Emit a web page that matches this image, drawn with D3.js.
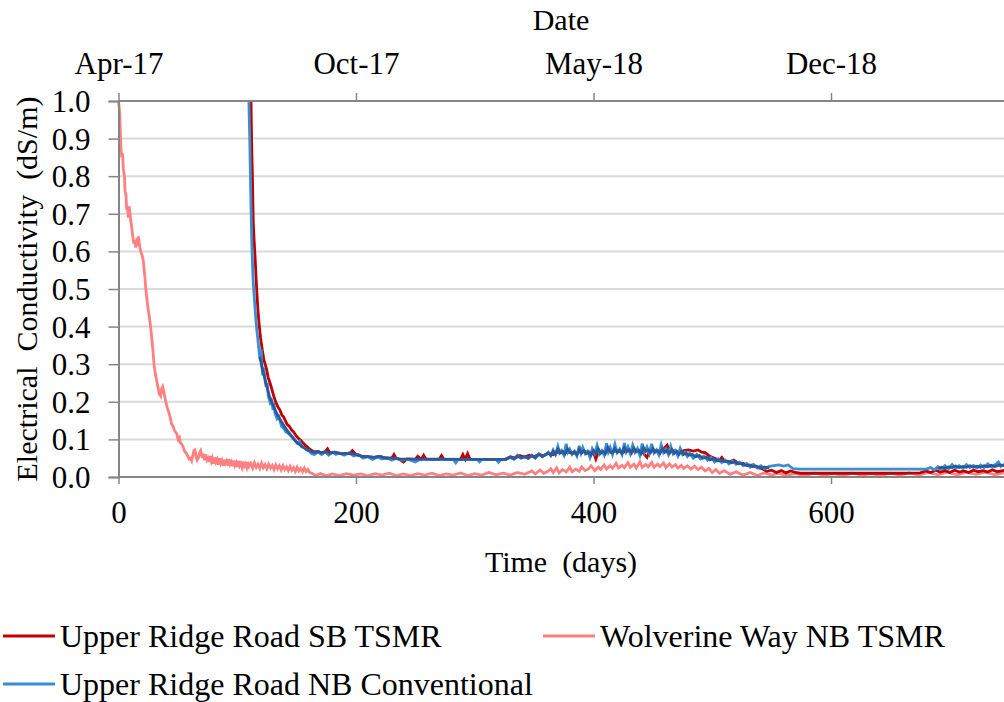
<!DOCTYPE html>
<html>
<head>
<meta charset="utf-8">
<script src="https://cdn.jsdelivr.net/npm/d3@7"></script>
<style>
  body { margin: 0; background: #fff; }
</style>
</head>
<body>
<script>
// ---- data (day, EC in dS/m) ----
var dayTicks = [0, 200, 400, 600];
var dateLabels = ["Apr-17", "Oct-17", "May-18", "Dec-18"];
var ecTicks = [0, 0.1, 0.2, 0.3, 0.4, 0.5, 0.6, 0.7, 0.8, 0.9, 1.0];

var seriesNames = ["Upper Ridge Road SB TSMR", "Wolverine Way NB TSMR", "Upper Ridge Road NB Conventional"];

var wolverineNB = [[0,1.0],[1,0.97],[2,0.88],[2.7,0.85],[3.5,0.86],[4,0.82],[5,0.80],[5.5,0.76],[6.3,0.75],[6.9,0.71],[7.5,0.72],[8.3,0.69],[9,0.72],[9.7,0.70],[10.4,0.68],[11.1,0.665],[12,0.64],[13,0.62],[13.8,0.63],[14.6,0.61],[15.5,0.635],[16.2,0.615],[16.7,0.64],[17.5,0.62],[18.7,0.60],[19.8,0.59],[20.9,0.575],[21.6,0.55],[22.3,0.53],[23,0.50],[23.7,0.48],[24.8,0.45],[26,0.425],[27,0.40],[28,0.37],[29,0.335],[29.9,0.30],[31,0.275],[32.2,0.255],[33.2,0.24],[34.4,0.22],[35.5,0.215],[36.3,0.235],[37.2,0.24],[38.2,0.225],[39.2,0.21],[40.2,0.195],[41,0.185],[42,0.175],[43,0.165],[43.8,0.155],[44.8,0.14],[46,0.135],[47,0.125],[48,0.12],[49,0.115],[50.2,0.10],[51.3,0.105],[52.2,0.09],[53.2,0.088],[54.5,0.08],[55.5,0.07],[56.5,0.065],[57.4,0.062],[58.5,0.055],[59.5,0.048],
  [60.5,0.05],[61.6,0.043],[62.6,0.058],[63.5,0.07],[64.4,0.072],[65.3,0.055],[66.2,0.045],[67.2,0.05],[68.3,0.065],[69.2,0.07],[70.2,0.055],[71.4,0.058],[72.5,0.045],[73.5,0.06],[74.6,0.045],[75.6,0.05],[76.5,0.04],[77.3,0.056],[78.2,0.042],[79,0.05],[80,0.035],[81,0.052],[82,0.04],[83,0.047],[84,0.033],[85,0.05],[86,0.037],[87,0.044],[88,0.03],[89,0.046],[90,0.036],[91,0.042],[92,0.03],[93,0.047],[94,0.034],[95,0.04],[96,0.029],[97,0.044],[98,0.031],[99,0.038],[100,0.027],[101,0.043],[102,0.03],[103,0.036],[104,0.026],[105,0.041],[106,0.029],[107,0.035],[108,0.025],[109,0.04],[110,0.028],[111.5,0.036],[113,0.024],[114.5,0.038],[116,0.026],[117.5,0.034],[119,0.023],[120.5,0.037],[122,0.025],[123.5,0.033],[125,0.022],[126.5,0.034],[128,0.024],[129.5,0.031],[131,0.02],[132.5,0.032],[134,0.022],[135.5,0.03],[137,0.019],[138.5,0.03],[140,0.02],[141.5,0.027],[143,0.017],[144.5,0.028],[146,0.018],[147.5,0.025],[149,0.015],[150.5,0.026],[152,0.016],[153.5,0.023],[155,0.014],[156.5,0.024],[158,0.014],[159.5,0.02],[161,0.012],
  [163,0.01],[166,0.004],[170,0.009],[175,0.003],[180,0.008],[186,0.004],[192,0.009],[198,0.005],[204,0.008],[210,0.003],[216,0.009],[222,0.005],[228,0.01],[234,0.004],[240,0.008],[246,0.004],[252,0.009],[258,0.005],[264,0.01],[270,0.004],[276,0.008],[282,0.005],[288,0.011],[294,0.004],[300,0.009],[306,0.005],[312,0.012],[318,0.006],[324,0.01],[330,0.005],[336,0.012],[342,0.007],[348,0.016],[351,0.008],[355,0.019],[358,0.01],[362,0.016],[364,0.022],[366,0.012],[369,0.024],[371,0.011],[374,0.02],[377,0.013],[380,0.026],[382,0.014],[385,0.021],[388,0.015],[390,0.027],[393,0.017],[396,0.022],[398,0.03],[401,0.017],[404,0.026],[406,0.02],[409,0.032],[411,0.021],[414,0.03],[416,0.023],[419,0.036],[421,0.024],[424,0.031],[426,0.025],[429,0.038],[431,0.026],[434,0.034],[436,0.024],[439,0.04],[441,0.026],[444,0.033],[446,0.027],[449,0.039],[451,0.026],[454,0.034],[456,0.028],[459,0.037],[461,0.025],[464,0.035],[466,0.027],[469,0.033],[471,0.024],[474,0.031],[476,0.023],[479,0.03],[482,0.021],[485,0.029],[488,0.02],[491,0.026],[494,0.016],[497,0.023],[500,0.012],[503,0.02],[506,0.01],[510,0.017],[515,0.007],[520,0.014],[526,0.005],[532,0.012],[538,0.004],[544,0.011],[550,0.005],[556,0.01],[562,0.004],[570,0.009],[578,0.004],[586,0.01],[594,0.005],[602,0.009],[610,0.004],[618,0.01],[626,0.005],[634,0.009],[642,0.004],[650,0.01],[658,0.005],[666,0.011],[674,0.005],[682,0.012],[690,0.006],[698,0.013],[706,0.006],[714,0.012],[722,0.007],[730,0.013],[738,0.006],[746,0.011]];

var upperSB = [[111.6,1.0],[111.8,0.95],[112.3,0.86],[112.7,0.81],[113.1,0.74],[113.5,0.675],[114.2,0.63],[115,0.586],[115.7,0.54],[116.4,0.497],[117.3,0.45],[118.3,0.41],[119.6,0.37],[121.1,0.338],[122.5,0.31],[123.5,0.30],[124.8,0.285],[126,0.265],[127.6,0.25],[129,0.235],[130.3,0.22],[131.8,0.205],[133,0.195],[134.5,0.185],[136,0.178],[137.5,0.165],[139,0.16],[140.2,0.152],[142,0.14],[143.8,0.135],[145.8,0.125],[147.5,0.12],[149.5,0.11],[151.4,0.103],[153.5,0.098],[155,0.092],[157,0.085],[159,0.08],[161,0.074],[163,0.07],[165,0.067],[168,0.068],[171,0.064],[174,0.067],[176,0.075],[178,0.064],[182,0.066],[186,0.063],[190,0.062],[195,0.063],[197,0.07],[200,0.06],[205,0.055],[210,0.054],[215,0.052],[220,0.055],[225,0.05],[230,0.05],[232,0.06],[234,0.049],[236,0.048],[240,0.04],[243,0.048],[250,0.047],[252,0.055],[255,0.047],[257,0.058],[259,0.047],[270,0.047],[272,0.057],[274,0.047],[288,0.047],[290,0.06],[292,0.047],[294,0.062],[296,0.047],[326,0.047],[330,0.054],[334,0.05],[338,0.057],[342,0.053],[346,0.058],[350,0.054],[354,0.06],[358,0.057],[362,0.063],[366,0.059],[370,0.066],[375,0.064],[380,0.066],[385,0.063],[390,0.068],[395,0.066],[400,0.066],[402,0.048],[404,0.066],[410,0.068],[415,0.066],[420,0.07],[425,0.066],[430,0.07],[435,0.068],[440,0.07],[445,0.052],[447,0.068],[452,0.07],[457,0.068],[462,0.085],[464,0.068],[468,0.07],[472,0.066],[476,0.07],[480,0.072],[484,0.069],[488,0.072],[491,0.066],[494,0.065],[498,0.055],[502,0.05],[506,0.045],[508,0.052],[510,0.044],[514,0.04],[518,0.045],[522,0.037],[526,0.036],[530,0.03],[534,0.032],[538,0.025],[542,0.022],[546,0.015],[550,0.018],[554,0.012],[558,0.017],[562,0.011],[566,0.016],[570,0.012],[574,0.01],[600,0.01],[630,0.01],[660,0.01],[675,0.011],[680,0.016],[684,0.012],[688,0.018],[692,0.013],[696,0.017],[700,0.012],[704,0.018],[708,0.013],[712,0.016],[716,0.012],[720,0.018],[724,0.014],[728,0.017],[732,0.013],[736,0.019],[740,0.014],[746,0.018]];

var upperNB = [[109.8,1.0],[110,0.97],[110.5,0.9],[110.9,0.83],[111.3,0.763],[111.7,0.7],[112.2,0.63],[112.8,0.57],[113.5,0.515],[114.5,0.47],[115.5,0.426],[116.5,0.39],[117.7,0.356],[118.5,0.33],[119.5,0.31],[120.3,0.34],[120.6,0.30],[121.5,0.27],[122.3,0.29],[123.4,0.258],[124.3,0.24],[125.2,0.25],[126.2,0.214],[127.5,0.2],[128.5,0.21],[129.8,0.185],[131,0.19],[131.8,0.169],[133.5,0.155],[135,0.16],[137.4,0.134],[139,0.13],[141,0.12],[143,0.116],[145,0.11],[147,0.105],[148.6,0.098],[150.5,0.09],[152.5,0.095],[154.3,0.08],[156.5,0.078],[158.5,0.072],[160.5,0.07],[162.7,0.062],[165,0.06],[168,0.066],[171,0.06],[174,0.067],[177,0.058],[180,0.066],[183,0.06],[186,0.064],[190,0.058],[194,0.064],[198,0.056],[202,0.06],[206,0.05],[210,0.054],[214,0.047],[218,0.053],[222,0.048],[226,0.052],[230,0.045],[234,0.05],[238,0.045],[244,0.047],[250,0.04],[254,0.047],[282,0.047],[284,0.038],[286,0.047],[302,0.047],[304,0.04],[306,0.047],[318,0.047],[320,0.039],[322,0.047],[326,0.047],
  [330,0.052],[333,0.047],[336,0.058],[339,0.05],[342,0.055],[345,0.049],[348,0.058],[351,0.05],[354,0.062],[357,0.054],[360,0.06],[362,0.066],[364,0.057],[366,0.072],[368,0.06],[370,0.082],[371.5,0.064],[373,0.07],[375,0.058],[377,0.088],[378.5,0.066],[380,0.074],[382,0.06],[384,0.068],[386,0.056],[388,0.083],[389.5,0.064],[391,0.078],[393,0.062],[395,0.069],[397,0.052],[399,0.075],[401,0.063],[403,0.084],[405,0.061],[407,0.07],[409,0.058],[411,0.09],[412.5,0.067],[414,0.079],[416,0.06],[418,0.087],[420,0.065],[422,0.074],[424,0.06],[426,0.09],[427.5,0.068],[429,0.08],[431,0.062],[433,0.085],[435,0.066],[437,0.076],[439,0.058],[441,0.089],[443,0.066],[445,0.08],[447,0.063],[449,0.088],[451,0.064],[453,0.072],[455,0.059],[457,0.086],[459,0.065],[461,0.074],[463,0.06],[465,0.082],[467,0.062],[469,0.07],[471,0.056],[473,0.076],[475,0.06],[477,0.066],[479,0.055],[481,0.064],[484,0.05],[487,0.06],[490,0.048],[493,0.056],[496,0.045],[499,0.052],[502,0.04],[505,0.048],[508,0.038],[511,0.045],[514,0.035],[517,0.043],[520,0.034],[523,0.04],[526,0.03],[529,0.036],[532,0.026],[535,0.033],[538,0.024],[541,0.03],[544,0.022],[548,0.028],[552,0.03],[556,0.032],[560,0.029],[564,0.032],[568,0.022],[574,0.021],[600,0.021],[640,0.021],[680,0.021],[684,0.025],[687,0.019],[690,0.027],[693,0.021],[696,0.03],[699,0.022],[702,0.033],[705,0.024],[708,0.03],[711,0.023],[714,0.033],[717,0.025],[720,0.031],[723,0.024],[726,0.032],[729,0.025],[732,0.035],[735,0.027],[738,0.032],[741,0.04],[743,0.028],[746,0.034]];

// darker overlapping trace seen inside the blue band
var upperNBdark = [[119,0.32],[121,0.29],[123,0.265],[125,0.24],[127,0.215],[129,0.2],[131,0.185],[133,0.17],[135,0.16],[137,0.148],[139,0.138],[141,0.128],[143,0.12],[145,0.112],[147,0.103],[149,0.096],[151,0.09],[153,0.085],[155,0.08],[157,0.076],[159,0.072],[162,0.068],[165,0.065],[168,0.068],[171,0.064],[174,0.067],[178,0.063],[182,0.066],[186,0.063],[190,0.062],[195,0.063],[200,0.06],[205,0.055],[210,0.054],[215,0.052],[220,0.055],[225,0.05],[230,0.05],[236,0.048],[300,0.047],[326,0.047],
  [330,0.053],[333,0.049],[336,0.056],[339,0.051],[342,0.054],[345,0.05],[348,0.057],[351,0.052],[354,0.06],[357,0.055],[360,0.06],[362,0.064],[364,0.058],[366,0.068],[368,0.061],[370,0.074],[372,0.064],[374,0.068],[376,0.061],[378,0.075],[380,0.066],[382,0.062],[384,0.067],[386,0.059],[388,0.074],[390,0.064],[392,0.07],[394,0.062],[396,0.066],[398,0.058],[400,0.07],[402,0.063],[404,0.075],[406,0.063],[408,0.068],[410,0.062],[412,0.078],[414,0.067],[416,0.064],[418,0.076],[420,0.066],[422,0.071],[424,0.063],[426,0.078],[428,0.068],[430,0.073],[432,0.064],[434,0.077],[436,0.067],[438,0.071],[440,0.062],[442,0.078],[444,0.068],[446,0.072],[448,0.065],[450,0.076],[452,0.066],[454,0.07],[456,0.063],[458,0.075],[460,0.066],[462,0.071],[464,0.063],[466,0.073],[468,0.063],[470,0.068],[472,0.06],[474,0.068],[476,0.06],[478,0.064],[480,0.058],[483,0.06],[486,0.054],[489,0.057],[492,0.05],[495,0.053],[498,0.046],[501,0.048],[504,0.043],[507,0.045],[510,0.041],[513,0.042],[516,0.038],[519,0.04],[522,0.035],[525,0.036],[528,0.031],[531,0.032],[534,0.028],[537,0.029],[540,0.025],[544,0.026],[548,0.024],[552,null],[690,0.022],[693,0.026],[696,0.023],[699,0.027],[702,0.025],[705,0.029],[708,0.025],[711,0.028],[714,0.026],[717,0.03],[720,0.026],[723,0.029],[726,0.026],[729,0.03],[732,0.027],[735,0.031],[738,0.028],[742,0.032],[746,0.03]];

// ---- layout ----
var W = 1004, H = 702;
var plot = {left: 118.5, top: 101, bottom: 477};
var serif = "'Liberation Serif'";

var x = d3.scaleLinear().domain([0, 750]).range([plot.left, plot.left + 750 * 1.1875]);
var y = d3.scaleLinear().domain([0, 1]).range([plot.bottom, plot.top]);

var svg = d3.select("body").append("svg")
    .attr("width", W)
    .attr("height", H)
    .style("display", "block");

// gridlines
svg.append("g").selectAll("line")
    .data(ecTicks.filter(function(d) { return d > 0 && d < 1; }))
  .enter().append("line")
    .attr("x1", plot.left).attr("x2", W)
    .attr("y1", function(d) { return y(d); })
    .attr("y2", function(d) { return y(d); })
    .style("stroke", "#d9d9d9")
    .style("stroke-width", 2);

var axisColor = "#868686";

// series
var line = d3.line()
    .defined(function(d) { return d[1] !== null; })
    .x(function(d) { return x(d[0]); })
    .y(function(d) { return y(d[1]); });

var lines = svg.append("g");

lines.append("path").datum(wolverineNB)
    .attr("d", line).style("fill", "none").style("stroke", "#ff8080").style("stroke-width", 2.8);
lines.append("path").datum(upperSB)
    .attr("d", line).style("fill", "none").style("stroke", "#c00000").style("stroke-width", 2.8);
lines.append("path").datum(upperNB)
    .attr("d", line).style("fill", "none").style("stroke", "#3a8fd3").style("stroke-width", 2.8);
lines.append("path").datum(upperNBdark)
    .attr("d", line).style("fill", "none").style("stroke", "#2b5a9c").style("stroke-width", 2.8);

// axes
function styleAxis(g) {
  g.attr("font-family", serif).attr("font-size", 31);
  g.selectAll(".domain").style("stroke", axisColor).style("stroke-width", 2);
  g.selectAll(".tick line").style("stroke", axisColor).style("stroke-width", 1.5);
  g.selectAll(".tick text").style("fill", "#000");
}

var gLeft = svg.append("g")
    .attr("transform", "translate(" + plot.left + ",0)")
    .call(d3.axisLeft(y).tickValues(ecTicks).tickFormat(d3.format(".1f")).tickSize(10).tickPadding(18));
styleAxis(gLeft);
gLeft.selectAll(".tick text").attr("dy", "0.34em");

var gBottom = svg.append("g")
    .attr("transform", "translate(0," + plot.bottom + ")")
    .call(d3.axisBottom(x).tickValues(dayTicks).tickSize(7).tickPadding(17));
styleAxis(gBottom);
gBottom.select(".domain").attr("d", "M" + plot.left + ",0H" + W);

var gTop = svg.append("g")
    .attr("transform", "translate(0," + plot.top + ")")
    .call(d3.axisTop(x).tickValues(dayTicks)
      .tickFormat(function(d, i) { return dateLabels[i]; })
      .tickSize(8).tickPadding(19));
styleAxis(gTop);
gTop.select(".domain").attr("d", "M" + plot.left + ",0H" + W);

// axis titles
svg.append("text")
    .attr("x", 561).attr("y", 30)
    .attr("text-anchor", "middle")
    .attr("font-family", serif)
    .attr("font-size", 30)
    .text("Date");

svg.append("text")
    .attr("x", 561).attr("y", 572)
    .attr("text-anchor", "middle")
    .attr("font-family", serif)
    .attr("font-size", 30)
    .style("white-space", "pre")
    .text("Time  (days)");

svg.append("text")
    .attr("transform", "translate(37,289) rotate(-90)")
    .attr("text-anchor", "middle")
    .attr("font-family", serif)
    .attr("font-size", 30)
    .style("white-space", "pre")
    .text("Electrical  Conductivity  (dS/m)");

// legend
var legendItems = [
  {name: seriesNames[0], color: "#c00000", x: 3, y: 636},
  {name: seriesNames[1], color: "#ff8080", x: 543, y: 636},
  {name: seriesNames[2], color: "#3a8fd3", x: 3, y: 684}
];

var legend = svg.append("g").selectAll("g")
    .data(legendItems)
  .enter().append("g")
    .attr("transform", function(d) { return "translate(" + d.x + "," + d.y + ")"; });

legend.append("line")
    .attr("x1", 0).attr("x2", 52)
    .style("stroke", function(d) { return d.color; })
    .style("stroke-width", 3);

legend.append("text")
    .attr("x", 57).attr("dy", "0.35em")
    .attr("font-family", serif)
    .attr("font-size", 32)
    .text(function(d) { return d.name; });
</script>
</body>
</html>
